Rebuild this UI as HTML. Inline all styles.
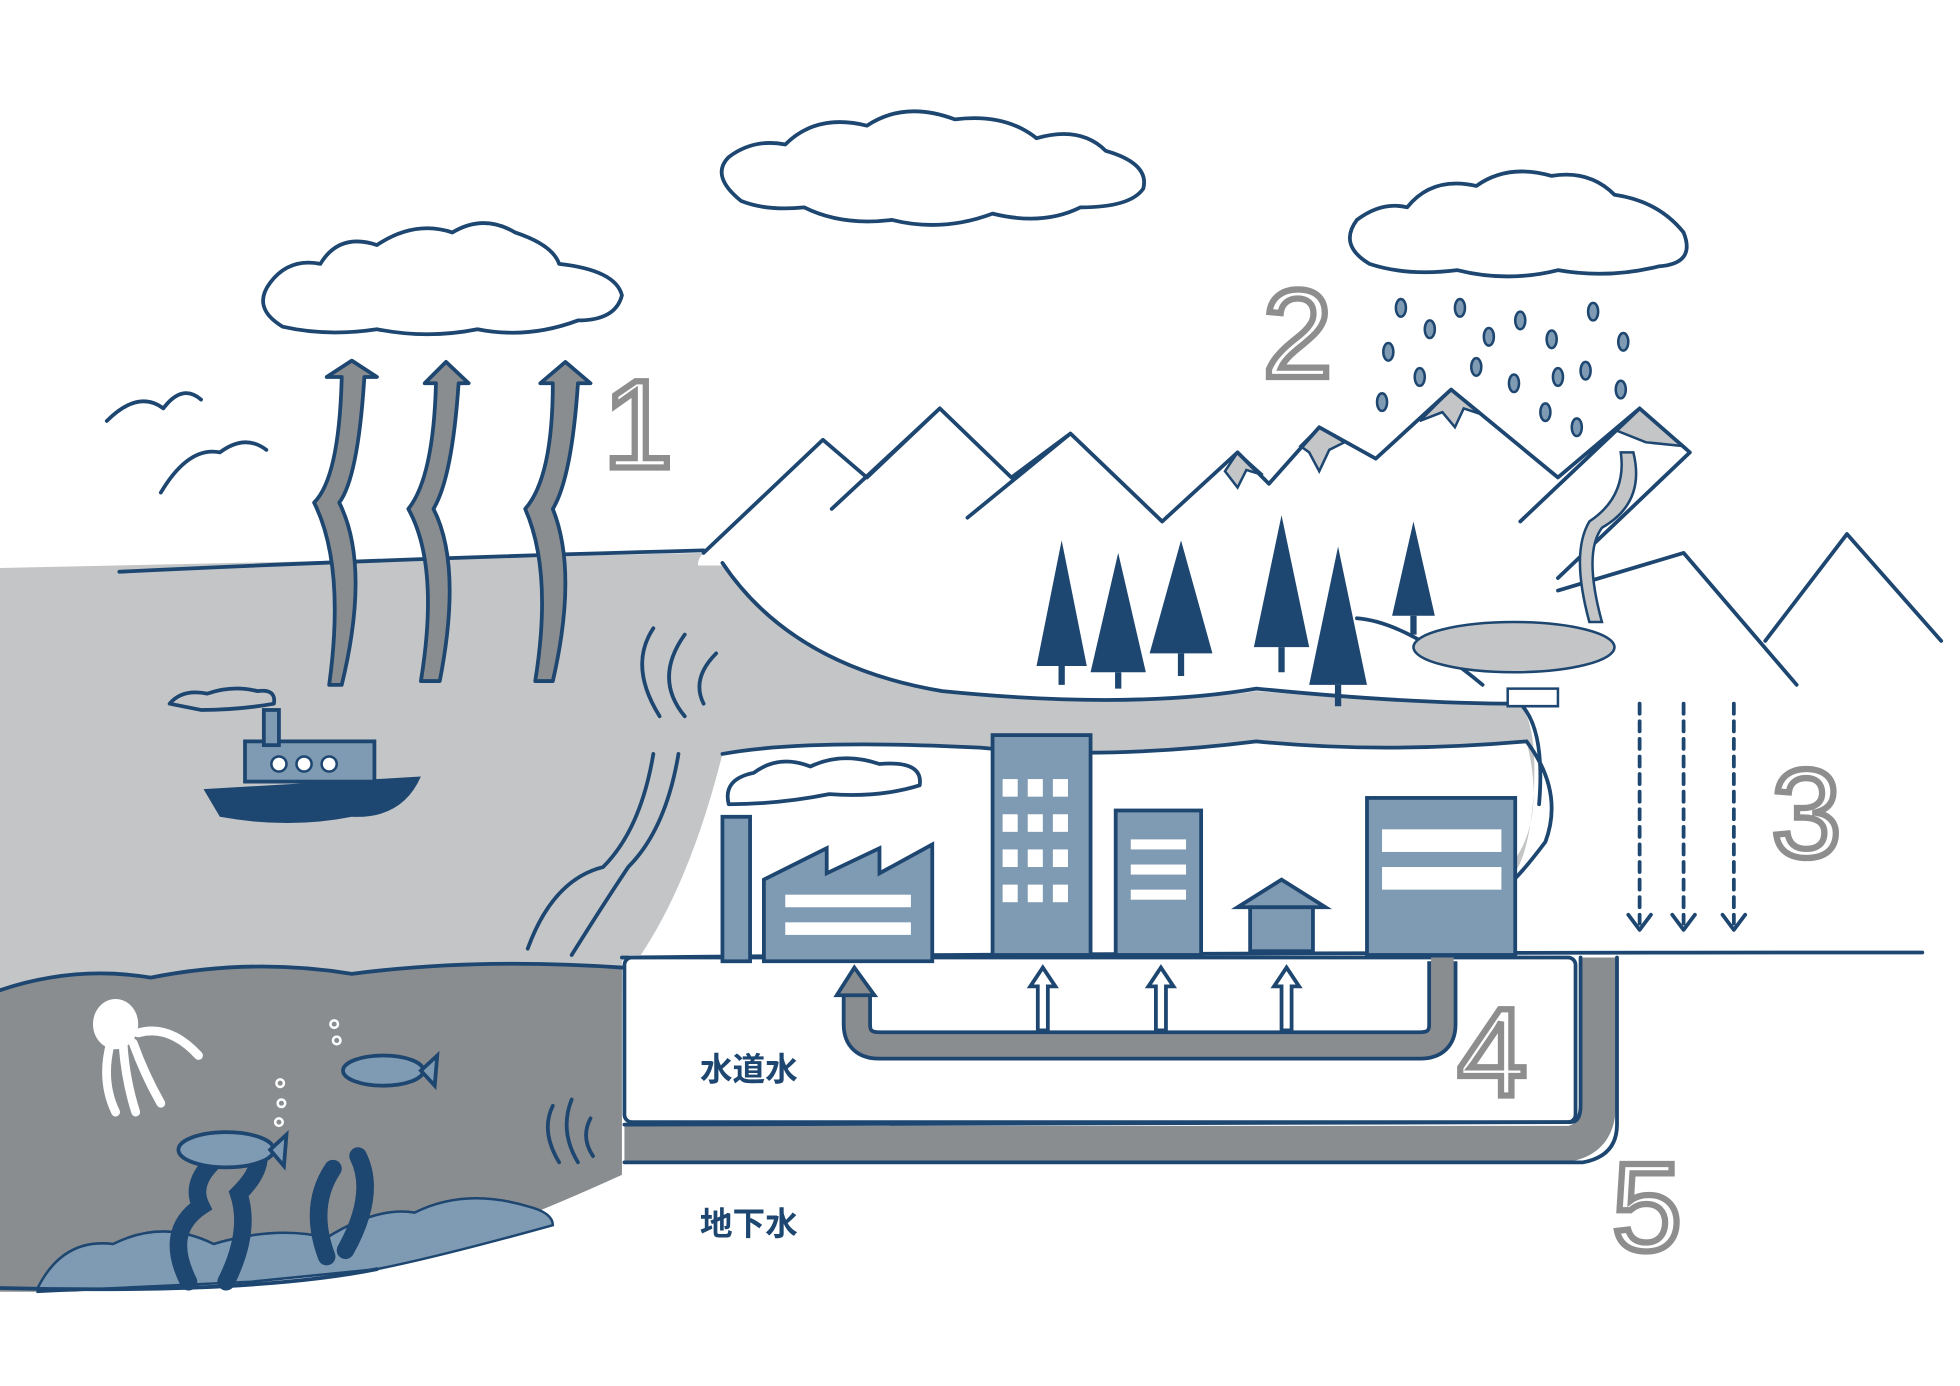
<!DOCTYPE html>
<html><head><meta charset="utf-8"><style>
html,body{margin:0;padding:0;background:#fff;}
svg{display:block;}
.n{fill:none;stroke:#1d4670;stroke-width:3;stroke-linejoin:round;stroke-linecap:round;}
.num{font-family:"Liberation Sans",sans-serif;font-size:100px;fill:#fff;stroke:#8e8e8e;stroke-width:5;}
.jp{font-family:"Liberation Sans","Noto Sans CJK JP",sans-serif;font-size:26px;fill:#1d4670;font-weight:bold;}
</style></head><body>
<svg width="1960" height="1386" viewBox="0 0 1560 1103" preserveAspectRatio="none" xmlns="http://www.w3.org/2000/svg">
<rect width="1560" height="1103" fill="#fff"/>
<!-- shallow sea -->
<path d="M0 452 L560 440 Q545 455 580 470 Q640 520 640 540 Q600 560 570 590 Q560 650 540 700 Q520 745 495 765 L495 790 L0 790 Z" fill="#c3c5c6"/>
<path class="n" d="M95 455 Q300 445 560 438"/>
<!-- deep sea -->
<path d="M0 788 Q60 768 120 778 Q200 762 280 775 Q380 762 495 770 L495 935 Q440 960 400 975 Q300 1000 200 1018 L60 1028 L0 1028 Z" fill="#8a8d90"/>
<path class="n" d="M0 788 Q60 768 120 778 Q200 762 280 775 Q380 762 495 770"/>
<!-- rocks -->
<path d="M30 1025 Q50 985 90 990 Q130 970 170 990 Q220 975 260 985 Q300 960 330 965 Q370 945 420 960 Q440 965 440 975 Q350 1000 300 1010 L200 1020 L30 1028 Z" fill="#7f9ab3" stroke="#1d4670" stroke-width="2"/>
<path class="n" d="M0 1025 Q200 1030 300 1010"/>
<!-- weeds -->
<path d="M150 1020 Q130 980 160 960 Q150 940 175 920 M180 1020 Q200 980 190 950 Q210 930 205 915 M260 1000 Q245 960 265 930 M275 995 Q300 950 285 920" stroke="#1d4670" stroke-width="14" fill="none" stroke-linecap="round"/>
<!-- fish -->
<ellipse cx="180" cy="915" rx="38" ry="14" fill="#7f9ab3" stroke="#1d4670" stroke-width="3"/>
<path d="M215 915 L228 903 L226 928 Z" fill="#7f9ab3" stroke="#1d4670" stroke-width="3"/>
<ellipse cx="305" cy="852" rx="32" ry="12" fill="#7f9ab3" stroke="#1d4670" stroke-width="3"/>
<path d="M335 852 L348 840 L346 864 Z" fill="#7f9ab3" stroke="#1d4670" stroke-width="3"/>
<g fill="none" stroke="#fff" stroke-width="2"><circle cx="266" cy="815" r="3"/><circle cx="268" cy="828" r="3"/><circle cx="223" cy="862" r="3"/><circle cx="224" cy="878" r="3"/><circle cx="222" cy="893" r="3"/></g>
<!-- octopus -->
<g stroke="#fff" stroke-width="7" fill="none" stroke-linecap="round">
<path d="M88 830 Q80 860 92 885 M98 832 Q100 860 108 885 M106 830 Q115 855 128 878 M110 822 Q135 815 158 840"/>
</g>
<ellipse cx="92" cy="815" rx="18" ry="20" fill="#fff"/>
<!-- sub-ground box -->
<rect x="497" y="762" width="757" height="131" rx="6" fill="#fff" stroke="#1d4670" stroke-width="3"/>
<!-- groundwater pipe -->
<path d="M497 910 L1250 910 Q1272 905 1272 880 L1272 762" fill="none" stroke="#8a8d90" stroke-width="28"/>
<path class="n" d="M497 895 L1250 893 Q1258 893 1258 880 L1258 762 M497 925 L1260 925 Q1287 920 1287 895 L1287 762"/>
<!-- tap pipe -->
<path d="M682 790 L682 815 Q682 832 700 832 L1130 832 Q1148 832 1148 815 L1148 765" fill="none" stroke="#1d4670" stroke-width="24"/>
<path d="M682 790 L682 815 Q682 832 700 832 L1130 832 Q1148 832 1148 815 L1148 762" fill="none" stroke="#8a8d90" stroke-width="18"/>
<path d="M666 792 L680 770 L696 792 Z" stroke="#1d4670" stroke-width="3" fill="#8a8d90"/>
<g stroke="#1d4670" stroke-width="3" fill="#fff">
<path d="M826 820 V785 H820 L830 770 L840 785 H834 V820 Z"/>
<path d="M920 820 V785 H914 L924 770 L934 785 H928 V820 Z"/>
<path d="M1020 820 V785 H1014 L1024 770 L1034 785 H1028 V820 Z"/>
</g>
<!-- ground line -->
<path class="n" d="M495 762 Q900 758 1530 758"/>
<!-- snow caps -->
<g fill="#c3c5c6" stroke="#1d4670" stroke-width="2">
<path d="M1130 335 L1155 310 L1180 330 L1165 325 L1158 340 L1148 328 Z"/>
<path d="M1035 355 L1050 340 L1070 352 L1058 358 L1050 375 L1042 360 Z"/>
<path d="M975 375 L985 360 L1005 378 L992 374 L985 388 Z"/>
<path d="M1285 342 L1305 325 L1340 355 L1310 352 Z"/>
</g>
<!-- mountains -->
<path class="n" d="M560 440 L655 350 L690 380 L748 325 L805 380 L852 345 L925 415 L985 360 L1010 385 L1050 340 L1095 365 L1155 310 L1240 380 L1305 325 L1345 360 L1240 460 M662 405 L748 325 M770 412 L852 345 M1210 415 L1305 325 M1240 470 L1340 440 L1430 545 M1405 510 L1470 425 L1545 510"/>
<!-- river -->
<path d="M575 450 Q630 530 750 550 Q900 565 1000 550 Q1120 560 1210 560 Q1225 580 1220 640 Q1215 690 1200 700 L1205 685 Q1230 650 1215 590 Q1100 600 1000 590 Q880 605 780 595 Q640 590 575 600 Q550 700 510 760 L495 760 Q530 700 545 600 Q560 520 548 450 Z" fill="#c3c5c6"/>
<path class="n" d="M575 448 Q630 530 750 550 Q900 565 1000 548 Q1120 560 1210 560 M575 600 Q640 588 780 595 Q880 605 1000 590 Q1100 600 1215 590 M1215 590 Q1245 630 1230 670 Q1215 690 1205 700 M1210 560 Q1230 580 1225 640"/>
<path class="n" d="M1080 492 Q1120 495 1180 545"/>
<path d="M1300 360 Q1310 400 1275 420 Q1260 440 1275 495 L1265 495 Q1250 440 1265 415 Q1295 395 1290 360 Z" fill="#c3c5c6" stroke="#1d4670" stroke-width="2"/>
<ellipse cx="1205" cy="515" rx="80" ry="20" fill="#c3c5c6" stroke="#1d4670" stroke-width="2"/>
<path d="M1200 548 h40 v14 h-40 Z" fill="#fff" stroke="#1d4670" stroke-width="2"/>
<!-- trees -->
<g fill="#1d4670">
<path d="M845 430 L825 530 L865 530 Z"/><path d="M890 440 L868 535 L912 535 Z"/><path d="M940 430 L915 520 L965 520 Z"/>
<path d="M1020 410 L998 515 L1042 515 Z"/><path d="M1065 435 L1042 545 L1088 545 Z"/><path d="M1125 415 L1108 490 L1142 490 Z"/>
</g>
<g stroke="#1d4670" stroke-width="5"><path d="M845 530 V545 M890 535 V548 M940 520 V538 M1020 515 V535 M1065 545 V562 M1125 490 V505"/></g>
<!-- buildings -->
<g fill="#7f9ab3" stroke="#1d4670" stroke-width="3">
<rect x="575" y="650" width="22" height="115"/>
<path d="M608 700 L658 675 L658 695 L700 675 L700 695 L742 672 L742 765 L608 765 Z"/>
<rect x="790" y="585" width="78" height="175"/>
<rect x="888" y="645" width="68" height="115"/>
<path d="M985 722 L1020 700 L1055 722 Z"/><rect x="995" y="722" width="50" height="35"/>
<rect x="1088" y="635" width="118" height="125"/>
</g>
<g fill="#fff">
<rect x="798" y="620" width="12" height="14"/><rect x="818" y="620" width="12" height="14"/><rect x="838" y="620" width="12" height="14"/>
<rect x="798" y="648" width="12" height="14"/><rect x="818" y="648" width="12" height="14"/><rect x="838" y="648" width="12" height="14"/>
<rect x="798" y="676" width="12" height="14"/><rect x="818" y="676" width="12" height="14"/><rect x="838" y="676" width="12" height="14"/>
<rect x="798" y="704" width="12" height="14"/><rect x="818" y="704" width="12" height="14"/><rect x="838" y="704" width="12" height="14"/>
<rect x="900" y="668" width="44" height="8"/><rect x="900" y="688" width="44" height="8"/><rect x="900" y="708" width="44" height="8"/>
<rect x="625" y="712" width="100" height="10"/><rect x="625" y="734" width="100" height="10"/>
<rect x="1100" y="660" width="95" height="18"/><rect x="1100" y="690" width="95" height="18"/>
</g>
<!-- factory smoke & ship -->
<path class="n" d="M580 640 Q575 620 600 615 Q620 600 645 610 Q670 598 700 608 Q735 605 732 625 Q700 635 660 632 Q620 640 580 640Z"/>
<path d="M162 628 L335 618 Q320 652 280 650 Q230 660 175 650 Z" fill="#1d4670"/>
<rect x="195" y="590" width="103" height="32" fill="#7f9ab3" stroke="#1d4670" stroke-width="3"/>
<g fill="#fff" stroke="#1d4670" stroke-width="2"><circle cx="222" cy="608" r="6"/><circle cx="242" cy="608" r="6"/><circle cx="262" cy="608" r="6"/></g>
<rect x="210" y="565" width="12" height="28" fill="#7f9ab3" stroke="#1d4670" stroke-width="3"/>
<path class="n" d="M135 560 Q145 548 165 552 Q185 545 205 550 Q220 548 218 560 Q190 565 160 565 Z"/>
<!-- sea waves near shore -->
<path class="n" d="M520 500 Q500 530 525 570 M545 505 Q520 540 545 570 M570 520 Q550 540 560 560 M440 880 Q430 900 445 925 M455 875 Q445 900 460 925 M470 890 Q462 905 472 920"/>
<path class="n" d="M420 755 Q440 700 480 690 Q510 660 520 600 M455 760 Q480 720 500 690 Q530 660 540 600"/>
<!-- evaporation arrows -->
<g fill="#8a8d90" stroke="#1d4670" stroke-width="3" stroke-linejoin="round">
<path d="M260 300 L280 287 L300 300 L290 300 Q285 380 270 400 Q295 450 272 545 L262 545 Q275 450 250 400 Q270 380 272 300 Z"/>
<path d="M338 305 L355 288 L373 305 L365 305 Q360 380 345 405 Q368 450 350 542 L335 542 Q350 450 325 405 Q345 380 347 305 Z"/>
<path d="M430 305 L450 288 L470 305 L460 305 Q455 380 440 405 Q460 455 440 542 L426 542 Q440 455 418 405 Q440 380 440 305 Z"/>
</g>
<!-- clouds -->
<g class="n">
<path d="M225 260 Q200 245 215 225 Q230 205 255 210 Q270 185 300 195 Q330 175 360 185 Q385 170 410 185 Q440 195 445 210 Q490 215 495 235 Q490 255 460 255 Q420 270 380 262 Q340 270 300 262 Q260 268 225 260 Z"/>
<path d="M590 160 Q565 140 580 125 Q600 110 625 115 Q650 90 690 100 Q720 80 760 95 Q800 90 825 110 Q860 100 880 120 Q915 130 910 150 Q900 165 860 165 Q830 180 790 170 Q750 185 710 175 Q670 180 640 165 Q610 168 590 160 Z"/>
<path d="M1090 210 Q1065 195 1080 175 Q1100 160 1120 165 Q1140 140 1175 148 Q1200 130 1235 140 Q1265 135 1285 155 Q1320 160 1340 185 Q1350 210 1320 212 Q1280 222 1240 215 Q1200 225 1160 215 Q1120 220 1090 210 Z"/>
<path d="M85 335 Q110 310 130 325 Q145 305 160 318 M128 392 Q150 355 175 360 Q195 345 212 358"/>
</g>
<!-- rain -->
<g fill="#7f9ab3" stroke="#1d4670" stroke-width="2">
<ellipse cx="1115" cy="245" rx="4" ry="7"/><ellipse cx="1138" cy="262" rx="4" ry="7"/><ellipse cx="1162" cy="245" rx="4" ry="7"/><ellipse cx="1185" cy="268" rx="4" ry="7"/><ellipse cx="1210" cy="255" rx="4" ry="7"/><ellipse cx="1235" cy="270" rx="4" ry="7"/><ellipse cx="1268" cy="248" rx="4" ry="7"/><ellipse cx="1292" cy="272" rx="4" ry="7"/>
<ellipse cx="1105" cy="280" rx="4" ry="7"/><ellipse cx="1130" cy="300" rx="4" ry="7"/><ellipse cx="1175" cy="292" rx="4" ry="7"/><ellipse cx="1205" cy="305" rx="4" ry="7"/><ellipse cx="1240" cy="300" rx="4" ry="7"/><ellipse cx="1262" cy="295" rx="4" ry="7"/><ellipse cx="1100" cy="320" rx="4" ry="7"/><ellipse cx="1230" cy="328" rx="4" ry="7"/><ellipse cx="1255" cy="340" rx="4" ry="7"/><ellipse cx="1290" cy="310" rx="4" ry="7"/>
</g>
<!-- infiltration arrows -->
<g class="n" stroke-dasharray="8,6"><path d="M1305 560 V735 M1340 560 V735 M1380 560 V735"/></g>
<path class="n" d="M1296 728 L1305 740 L1314 728 M1331 728 L1340 740 L1349 728 M1371 728 L1380 740 L1389 728"/>
<!-- numbers -->
<text class="num" x="480" y="372">1</text>
<text class="num" x="1005" y="300">2</text>
<text class="num" x="1410" y="682">3</text>
<text class="num" x="1160" y="872">4</text>
<text class="num" x="1283" y="995">5</text>
<text class="jp" x="557" y="860">水道水</text>
<text class="jp" x="557" y="983">地下水</text>
</svg>
</body></html>
